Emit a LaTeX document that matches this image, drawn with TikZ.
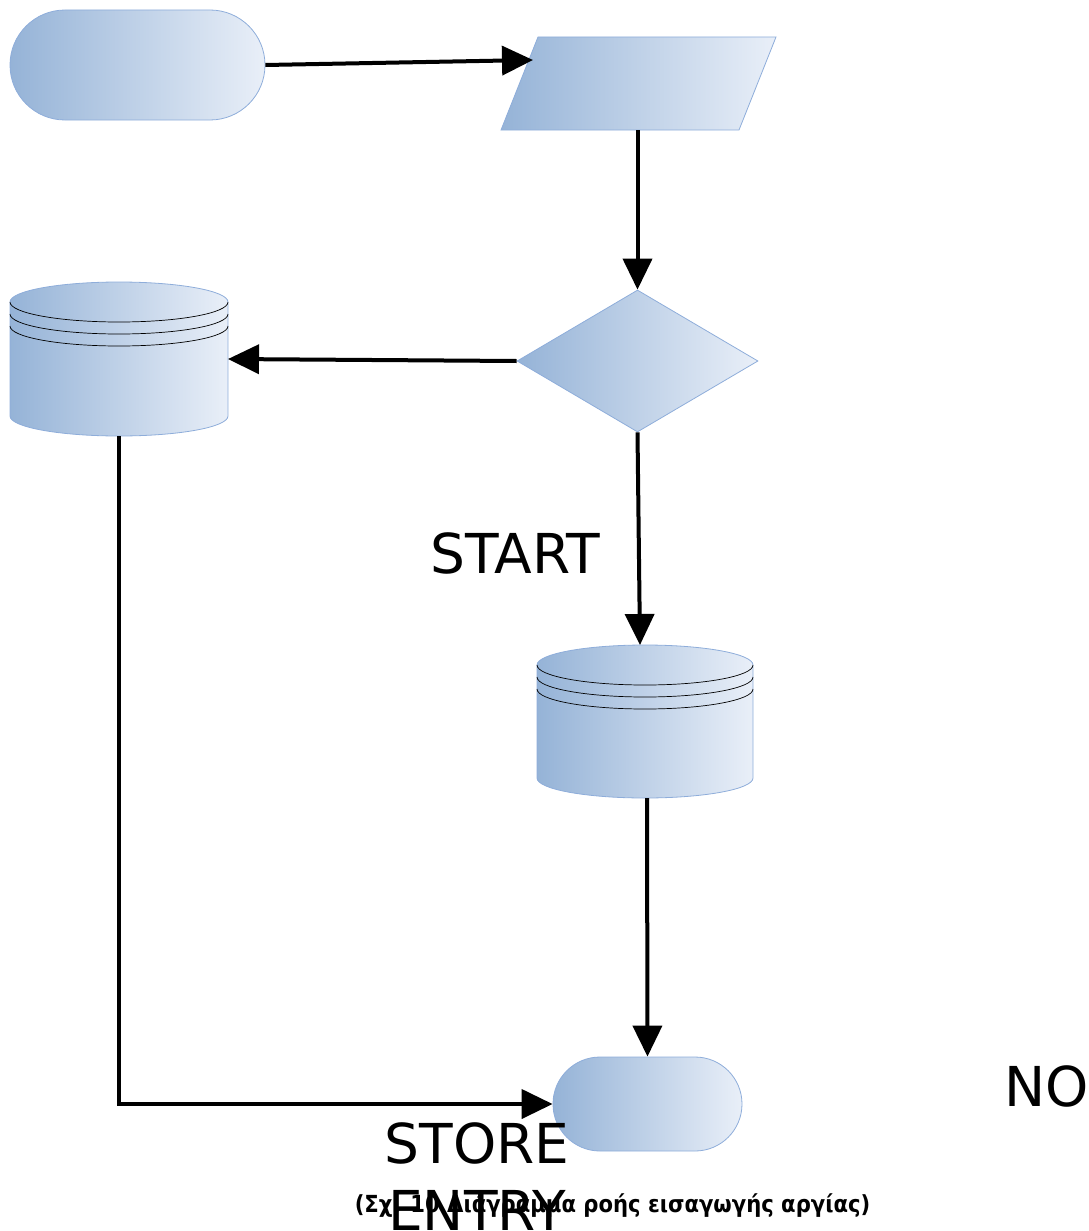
\documentclass[tikz,border=0pt]{standalone}
\usepackage{fontspec}
\setmainfont{DejaVu Sans}
\newfontfamily\capfont[FakeStretch=0.9]{DejaVu Sans}
\usetikzlibrary{shapes.geometric,shapes.misc,arrows.meta,calc}
\definecolor{shadeL}{HTML}{95B3D7}
\definecolor{shadeR}{HTML}{E9EFF8}
\definecolor{rim}{HTML}{8EADDA}
% drum (stored data) drawn over an empty placeholder node
\newcommand{\dbdrum}[2]{%
  \shade[left color=shadeL, right color=shadeR, draw=rim, line width=0.8pt]
    ([yshift=-20pt]#1.north west) -- ([yshift=20pt]#1.south west)
    arc[start angle=180, end angle=360, x radius=#2pt, y radius=20pt]
    -- ([yshift=-20pt]#1.north east)
    arc[start angle=0, end angle=180, x radius=#2pt, y radius=20pt] -- cycle;
  \foreach \d in {20,32,44}
    \draw[line width=0.7pt] ([yshift=-\d pt]#1.north west)
      arc[start angle=180, end angle=360, x radius=#2pt, y radius=20pt];
}
% slanted data box drawn over an empty placeholder node
\newcommand{\iobox}[2]{%
  \shade[left color=shadeL, right color=shadeR, draw=rim, line width=0.8pt]
    (#1.south west) -- ([xshift=#2pt]#1.north west) -- (#1.north east)
    -- ([xshift=-#2pt]#1.south east) -- cycle;
}
\begin{document}
\begin{tikzpicture}[
  x=1pt, y=-1pt,
  box/.style={left color=shadeL, right color=shadeR, draw=rim, line width=0.8pt, inner sep=0pt},
  term/.style={box, rounded rectangle},
  slot/.style={inner sep=0pt, outer sep=0pt},
  flow/.style={line width=4pt, -{Triangle[length=31pt, width=29pt]}},
  lbl/.style={font=\fontsize{55}{67}\selectfont, align=center, inner sep=0pt},
  caption/.style={font=\capfont\bfseries\fontsize{23.5}{26}\selectfont, inner sep=0pt}
]
  \useasboundingbox (0,0) rectangle (1089,1231);

  \node[term, minimum width=255pt, minimum height=110pt] (begin) at (137.5,65) {};
  \node[slot, minimum width=275pt, minimum height=93pt] (input) at (638.5,83.5) {};
  \node[box, diamond, minimum width=241pt, minimum height=142pt] (check) at (637.5,361) {};
  \node[slot, minimum width=218pt, minimum height=154pt] (dbleft) at (119,359) {};
  \node[slot, minimum width=216pt, minimum height=153pt] (dbmid) at (645,721.5) {};
  \node[term, minimum width=189pt, minimum height=94pt] (finish) at (647.5,1104) {};
  \iobox{input}{37}
  \dbdrum{dbleft}{109}
  \dbdrum{dbmid}{108}

  % connectors
  \draw[flow] (begin.east) -- ([xshift=32pt, yshift=-23pt]input.north west);
  \draw[flow] (check.north |- input.south) -- (check.north);
  \draw[flow] (check.west) -- (dbleft.east);
  \draw[flow] (check.south) -- ([xshift=-5pt]dbmid.north);
  \draw[flow] ([xshift=2pt]dbmid.south) -- (finish.north);
  \draw[flow] (dbleft.south) |- (finish.west);

  % labels
  \node[lbl] (startlbl) at (515,553) {START};
  \node[caption] (fig) at (612.5,1206) {(Σχ. 10 Διάγραμμα ροής εισαγωγής αργίας)};
  \node[lbl] (storelbl) at (477,1177) {STORE\\ENTRY};
  \node[lbl, anchor=west] (nolbl) at (1004,1086) {NO};
\end{tikzpicture}
\end{document}
